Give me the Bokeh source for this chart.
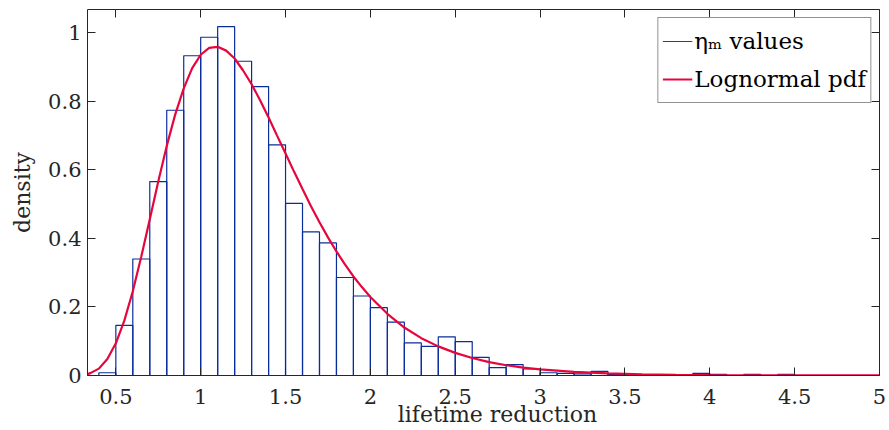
from bokeh.plotting import figure
from bokeh.models import (Range1d, LinearAxis, FixedTicker, Legend, LegendItem,
                          ColumnDataSource, NumeralTickFormatter, CustomJSTickFormatter)
from bokeh.embed import file_html
from bokeh.resources import INLINE

# ---- data ----
bin_edges = [0.4, 0.5, 0.6, 0.7, 0.8, 0.9, 1.0, 1.1, 1.2, 1.3, 1.4, 1.5, 1.6, 1.7,
             1.8, 1.9, 2.0, 2.1, 2.2, 2.3, 2.4, 2.5, 2.6, 2.7, 2.8, 2.9, 3.0, 3.1,
             3.2, 3.3, 3.4, 3.5, 3.6, 3.7, 3.8, 3.9, 4.0, 4.1, 4.2, 4.3, 4.4, 4.5]
hist_density = [0.008, 0.146, 0.340, 0.566, 0.774, 0.933, 0.987, 1.018, 0.917, 0.843,
                0.673, 0.502, 0.419, 0.387, 0.286, 0.232, 0.198, 0.156, 0.095, 0.085,
                0.113, 0.099, 0.053, 0.023, 0.032, 0.019, 0.008, 0.006, 0.005, 0.012,
                0.003, 0.002, 0.002, 0.001, 0.000, 0.006, 0.003, 0.000, 0.003, 0.000,
                0.003]

curve_x = [0.333, 0.35, 0.4, 0.45, 0.5, 0.55, 0.6, 0.65, 0.7, 0.75, 0.8, 0.85, 0.9,
           0.95, 1.0, 1.05, 1.1, 1.15, 1.2, 1.25, 1.3, 1.35, 1.4, 1.45, 1.5, 1.55,
           1.6, 1.65, 1.7, 1.75, 1.8, 1.85, 1.9, 1.95, 2.0, 2.1, 2.2, 2.3, 2.4, 2.5,
           2.6, 2.7, 2.8, 2.9, 3.0, 3.2, 3.4, 3.6, 3.8, 4.0, 4.5, 5.0]
curve_y = [0.004, 0.007, 0.020, 0.048, 0.094, 0.160, 0.246, 0.347, 0.456, 0.566,
           0.670, 0.762, 0.838, 0.897, 0.936, 0.956, 0.959, 0.948, 0.925, 0.890,
           0.850, 0.803, 0.753, 0.700, 0.648, 0.595, 0.544, 0.494, 0.447, 0.403,
           0.362, 0.324, 0.289, 0.258, 0.229, 0.180, 0.140, 0.109, 0.085, 0.066,
           0.051, 0.039, 0.030, 0.023, 0.018, 0.0105, 0.0062, 0.0037, 0.0022,
           0.0013, 0.0004, 0.0001]

x_ticks = [0.5, 1, 1.5, 2, 2.5, 3, 3.5, 4, 4.5, 5]
y_ticks = [0, 0.2, 0.4, 0.6, 0.8, 1]
x_label = "lifetime reduction"
y_label = "density"
legend_labels = ["\u03b7\u2098 values", "Lognormal pdf"]

BLUE = "#0a2d9c"
RED = "#e6063c"
AXIS = "#262626"
FONT = "DejaVu Serif"

p = figure(width=889, height=430, x_range=Range1d(0.333, 5), y_range=Range1d(0, 1.068),
           output_backend="svg", toolbar_location=None,
           min_border_left=87, min_border_right=10, min_border_top=9, min_border_bottom=55)
p.grid.visible = False
p.outline_line_color = None
p.background_fill_color = "white"

hist_src = ColumnDataSource(dict(left=bin_edges[:-1], right=bin_edges[1:],
                                 top=hist_density))
p.quad(left="left", right="right", bottom=0, top="top", source=hist_src,
       fill_color=None, line_color=BLUE, line_width=1.2)

curve = p.line(curve_x, curve_y, line_color=RED, line_width=2.2)

# legend swatch for the histogram (a single point: draws nothing in the plot)
proxy = p.line(x=bin_edges[:1], y=[0.0], line_color="#1f3fb0", line_width=1.2)

def style_axis(ax):
    ax.axis_line_color = AXIS
    ax.major_tick_line_color = AXIS
    ax.major_tick_in = 8
    ax.major_tick_out = 0
    ax.minor_tick_line_color = None
    ax.major_label_text_font = FONT
    ax.major_label_text_font_size = "21px"
    ax.major_label_text_color = AXIS
    ax.axis_label_text_font = FONT
    ax.axis_label_text_font_size = "22px"
    ax.axis_label_text_font_style = "normal"
    ax.axis_label_text_color = AXIS

xa = p.xaxis[0]
ya = p.yaxis[0]
style_axis(xa)
style_axis(ya)
xa.ticker = FixedTicker(ticks=x_ticks)
ya.ticker = FixedTicker(ticks=y_ticks)
xa.formatter = NumeralTickFormatter(format="0.[0]")
ya.formatter = NumeralTickFormatter(format="0.[0]")
# leading no-break spaces shift the title right of the frame centre, as in the reference
xa.axis_label = "\u00a0" * 4 + x_label
ya.axis_label = y_label
xa.major_label_standoff = 13
xa.axis_label_standoff = -5
ya.major_label_standoff = 6
ya.axis_label_standoff = 10

blank = CustomJSTickFormatter(code="return ''")
top_ax = LinearAxis(ticker=FixedTicker(ticks=x_ticks), formatter=blank)
right_ax = LinearAxis(ticker=FixedTicker(ticks=y_ticks), formatter=blank)
for ax in (top_ax, right_ax):
    style_axis(ax)
    ax.major_label_standoff = 0
    ax.major_label_text_font_size = "1px"
p.add_layout(top_ax, "above")
p.add_layout(right_ax, "right")

legend = Legend(items=[LegendItem(label=legend_labels[0], renderers=[proxy]),
                       LegendItem(label=legend_labels[1], renderers=[curve])],
                location="top_right")
legend.border_line_color = AXIS
legend.border_line_width = 1
legend.background_fill_color = "white"
legend.background_fill_alpha = 1
legend.label_text_font = FONT
legend.label_text_font_size = "23px"
legend.label_text_color = "black"
legend.glyph_width = 30
legend.glyph_height = 38
legend.label_height = 38
legend.spacing = 0
legend.padding = 4
legend.margin = 8
legend.label_standoff = 2
p.add_layout(legend)

open("out.html", "w").write(file_html(p, INLINE))
